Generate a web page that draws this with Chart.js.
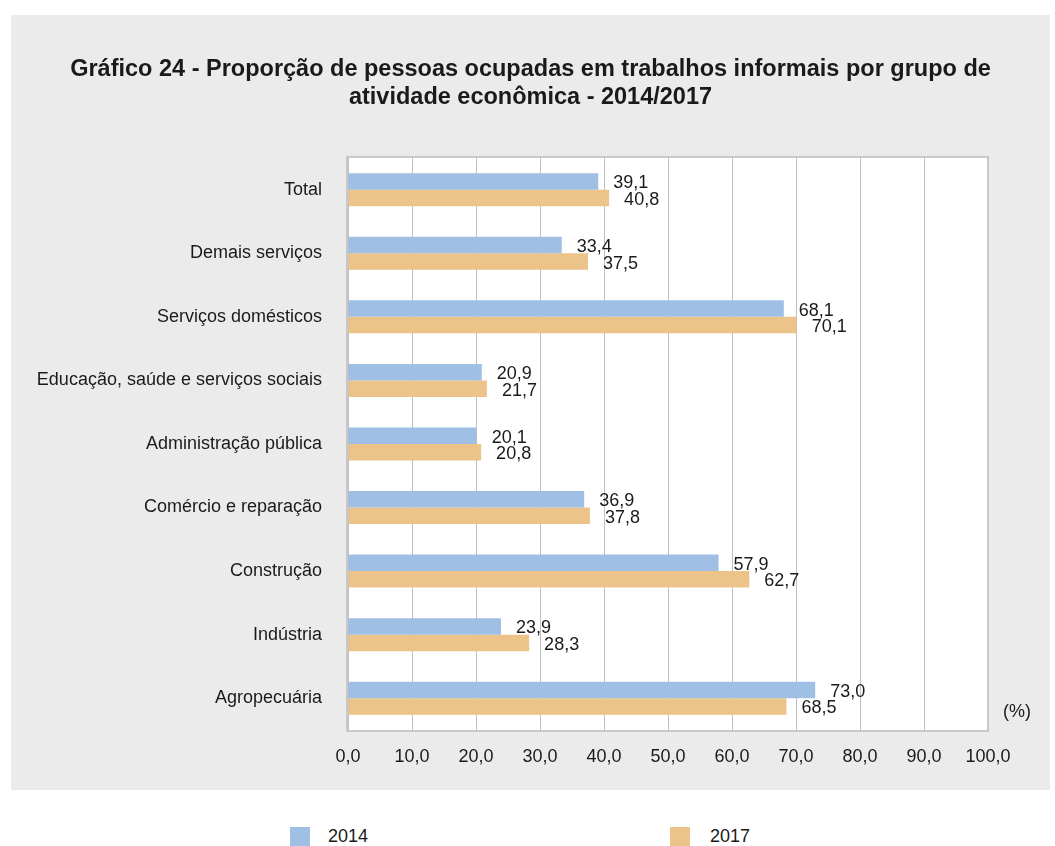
<!DOCTYPE html>
<html>
<head>
<meta charset="utf-8">
<script src="https://cdn.jsdelivr.net/npm/chart.js@4.4.1/dist/chart.umd.min.js"></script>
<style>
  html, body { margin: 0; padding: 0; background: #ffffff; width: 1055px; height: 846px; overflow: hidden; font-family: "Liberation Sans", Arial, sans-serif; }
  #panel { position: absolute; left: 11px; top: 15px; width: 1039px; height: 775px; background: #ebebeb; }
  #panel canvas { position: absolute; left: 0; top: 0; }
  .leg { position: absolute; font-size: 18px; color: #1a1a1a; }
  .sw { position: absolute; width: 20px; height: 20px; }
</style>
</head>
<body>
<div id="panel"><canvas id="c" width="1039" height="775"></canvas></div>
<div class="sw" style="left:290px; top:827px; background:#9fbfe5;"></div>
<div class="leg" style="left:328px; top:826px;">2014</div>
<div class="sw" style="left:670px; top:827px; background:#ecc388;"></div>
<div class="leg" style="left:710px; top:826px;">2017</div>
<script>
const categories = ["Total", "Demais serviços", "Serviços domésticos", "Educação, saúde e serviços sociais", "Administração pública", "Comércio e reparação", "Construção", "Indústria", "Agropecuária"];
const values2014 = [39.1, 33.4, 68.1, 20.9, 20.1, 36.9, 57.9, 23.9, 73.0];
const values2017 = [40.8, 37.5, 70.1, 21.7, 20.8, 37.8, 62.7, 28.3, 68.5];
const seriesLabels = ["2014", "2017"];
const titleLines = ["Gráfico 24 - Proporção de pessoas ocupadas em trabalhos informais por grupo de", "atividade econômica - 2014/2017"];
const unitLabel = "(%)";

const FONT = '"Liberation Sans", Arial, sans-serif';
const fmt = v => v.toFixed(1).replace('.', ',');

const bgPlugin = {
  id: 'plotBg',
  beforeDraw(chart) {
    const {ctx, chartArea: a} = chart;
    ctx.save();
    ctx.fillStyle = '#ffffff';
    ctx.fillRect(a.left, a.top, a.right - a.left, a.bottom - a.top);
    ctx.restore();
  },
  afterDatasetsDraw(chart) {
    const {ctx, chartArea: a} = chart;
    ctx.save();
    ctx.strokeStyle = '#c8c8c8';
    ctx.lineWidth = 2;
    ctx.strokeRect(a.left - 1, a.top - 1, a.right - a.left + 1, a.bottom - a.top + 2);
    ctx.font = '18px ' + FONT;
    ctx.fillStyle = '#1a1a1a';
    ctx.textBaseline = 'middle';
    ctx.textAlign = 'left';
    chart.data.datasets.forEach((ds, i) => {
      const meta = chart.getDatasetMeta(i);
      meta.data.forEach((bar, j) => {
        ctx.fillText(fmt(ds.data[j]), bar.x + 15, bar.y + 2);
      });
    });
    ctx.fillText(unitLabel, a.right + 15, a.bottom - 18);
    ctx.restore();
  }
};

new Chart(document.getElementById('c'), {
  type: 'bar',
  data: {
    labels: categories,
    datasets: [
      { label: seriesLabels[0], data: values2014, backgroundColor: '#9fbfe5', categoryPercentage: 0.52, barPercentage: 1.0 },
      { label: seriesLabels[1], data: values2017, backgroundColor: '#ecc388', categoryPercentage: 0.52, barPercentage: 1.0 }
    ]
  },
  options: {
    indexAxis: 'y',
    responsive: false,
    animation: false,
    layout: { padding: 0 },
    plugins: {
      legend: { display: false },
      tooltip: { enabled: false },
      title: {
        display: true,
        text: titleLines,
        color: '#1a1a1a',
        font: { family: FONT, size: 23.5, weight: 'bold', lineHeight: 1.19 },
        padding: { top: 41, bottom: 46 }
      }
    },
    scales: {
      x: {
        min: 0, max: 100,
        ticks: { stepSize: 10, callback: v => fmt(v), color: '#1a1a1a', font: { family: FONT, size: 18 }, padding: 16 },
        grid: { color: '#c0c0c0', lineWidth: 1, drawTicks: false },
        border: { display: false },
        afterFit(axis) { axis.height = 60; }
      },
      y: {
        ticks: { color: '#1a1a1a', font: { family: FONT, size: 18 }, padding: 26 },
        grid: { display: false, drawTicks: false },
        border: { display: false },
        afterFit(axis) { axis.width = 337; }
      },
      yRight: {
        type: 'linear',
        position: 'right',
        display: true,
        ticks: { display: false },
        grid: { display: false, drawTicks: false },
        border: { display: false },
        afterFit(axis) { axis.width = 62; }
      }
    }
  },
  plugins: [bgPlugin]
});
</script>
</body>
</html>
